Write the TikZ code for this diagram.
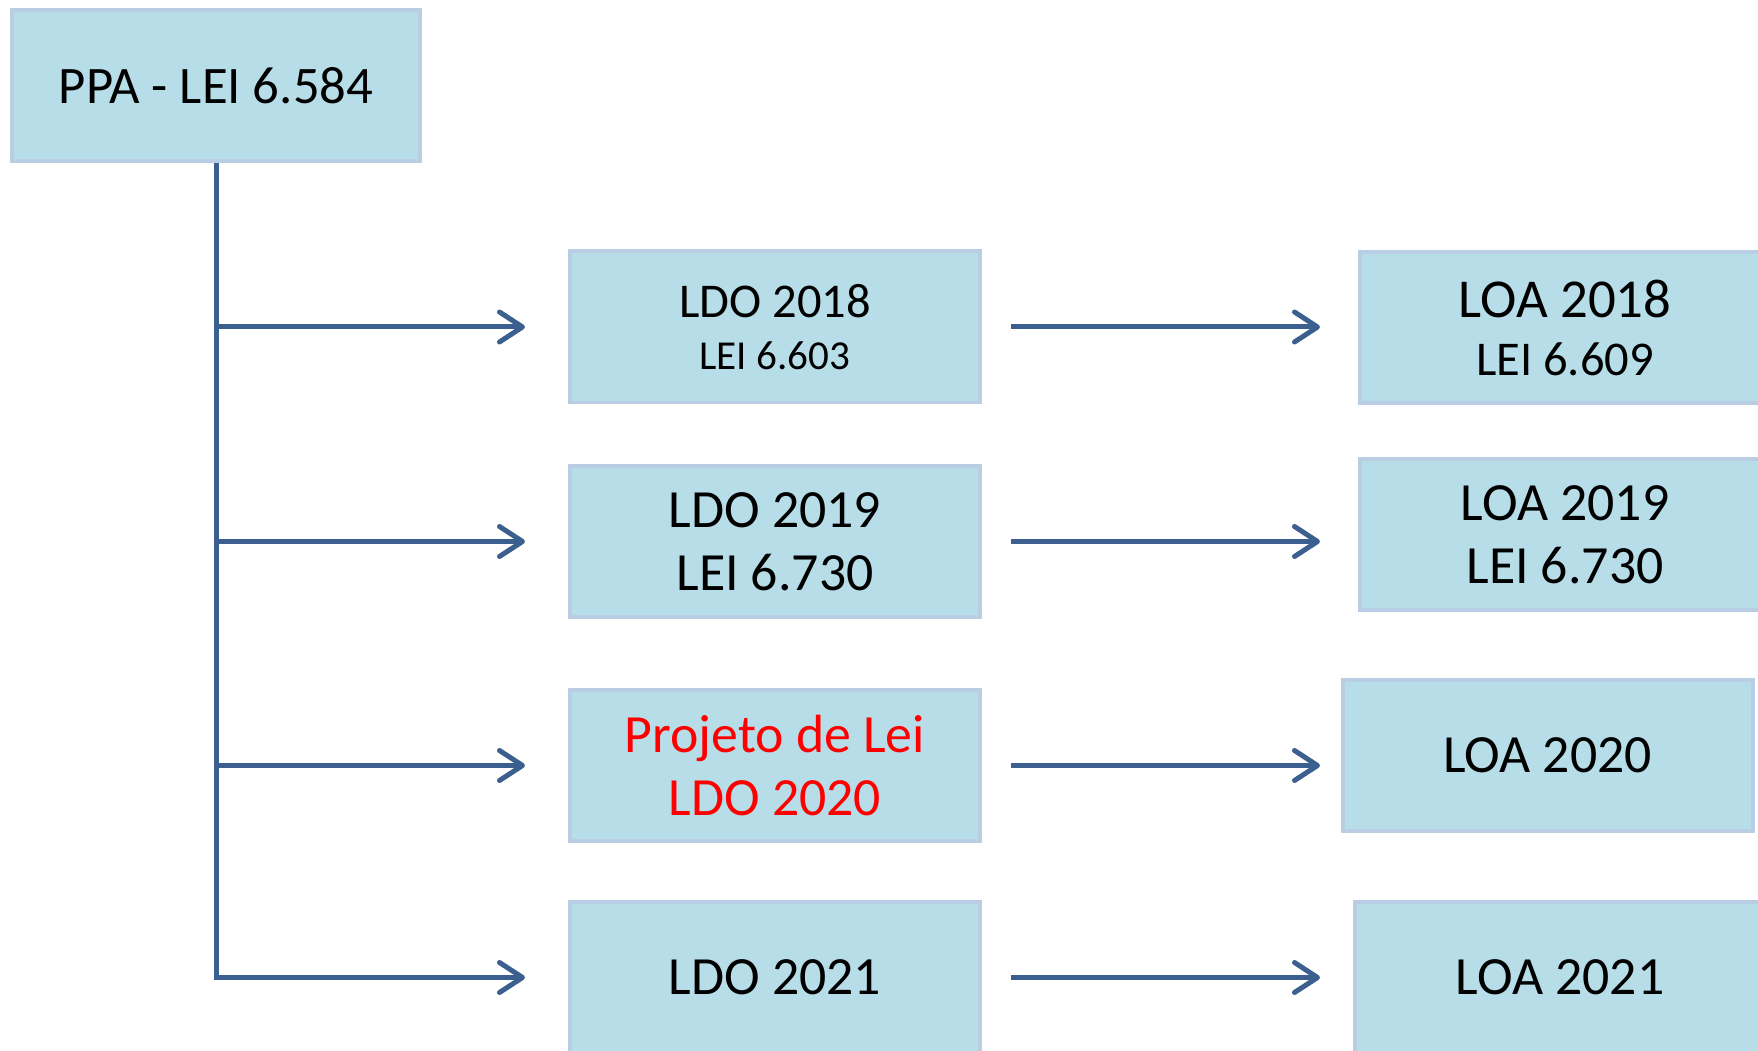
\documentclass[tikz,border=0pt]{standalone}
\usepackage{fontspec}
\setmainfont{Carlito}
\usetikzlibrary{arrows.meta}
\definecolor{boxfill}{HTML}{B7DDE8}
\definecolor{boxline}{HTML}{B9CDE5}
\definecolor{linkblue}{HTML}{3B5F8F}
\tikzset{
    every node/.style={rectangle, fill=boxfill, draw=boxline, line width=0.04cm,
    	minimum width=4.1cm, minimum height=1.51cm, inner sep=0pt, align=center,
    	font=\fontsize{15.3}{17.9}\selectfont}
}
\tikzset{link/.style={draw=linkblue, line width=0.05cm,
    -{Straight Barb[length=2.3mm, width=3mm, round]}}}

\begin{document}
\begin{tikzpicture}
  \useasboundingbox (0,0) rectangle (17.58,10.5);
  \clip (0,0) rectangle (17.58,10.5);

  \node (ppa) [minimum width=4.08cm, font=\fontsize{15}{17}\selectfont] at (2.16cm, 9.645cm) {PPA - LEI 6.584};

  \node (ldo_1) [font=\fontsize{13.8}{14.8}\selectfont] at (7.75cm, 7.23cm) {LDO 2018\\ {\fontsize{11.7}{14.8}\selectfont LEI 6.603}};
  \node (ldo_2) at (7.75cm, 5.085cm) {LDO 2019\\ LEI 6.730};
  \node (ldo_3) [text=red] at (7.75cm, 2.845cm) {Projeto de Lei\\ LDO 2020};
  \node (ldo_4) at (7.75cm, 0.725cm) {LDO 2021};

  \node (loa_1) [font=\fontsize{15.6}{16.5}\selectfont] at (15.65cm, 7.225cm) {LOA 2018\\ {\fontsize{13.8}{16.5}\selectfont LEI 6.609}};
  \node (loa_2) at (15.65cm, 5.155cm) {LOA 2019\\ LEI 6.730};
  \node (loa_3) at (15.475cm, 2.95cm) {LOA 2020};
  \node (loa_4) at (15.6cm, 0.725cm) {LOA 2021};

  \coordinate (tip) at (13.2cm, 0cm);

  \draw [link] (ppa.south) |- ([xshift=-4.3mm]ldo_4.west);
  \draw [link] (ldo_1.west -| ppa.south) -- ([xshift=-4.3mm]ldo_1.west);
  \draw [link] (ldo_2.west -| ppa.south) -- ([xshift=-4.3mm]ldo_2.west);
  \draw [link] (ldo_3.west -| ppa.south) -- ([xshift=-4.3mm]ldo_3.west);

  \draw [link] ([xshift=2.9mm]ldo_1.east) -- (ldo_1.east -| tip);
  \draw [link] ([xshift=2.9mm]ldo_2.east) -- (ldo_2.east -| tip);
  \draw [link] ([xshift=2.9mm]ldo_3.east) -- (ldo_3.east -| tip);
  \draw [link] ([xshift=2.9mm]ldo_4.east) -- (ldo_4.east -| tip);
\end{tikzpicture}
\end{document}
